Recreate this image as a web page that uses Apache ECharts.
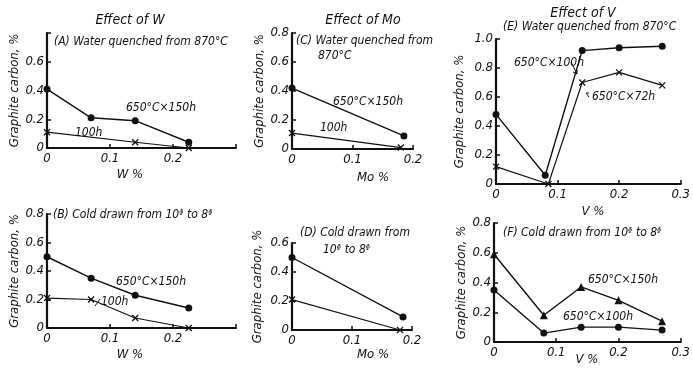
<!DOCTYPE html>
<html><head><meta charset="utf-8">
<script src="https://cdn.jsdelivr.net/npm/echarts@6/dist/echarts.min.js"></script>
<style>html,body{margin:0;padding:0;background:#fff}#c{width:693px;height:378px}</style>
</head><body><div id="c"></div>
<script>
// ---- data ----
const wPct = [0, 0.07, 0.14, 0.225];
const A150 = [0.41, 0.21, 0.19, 0.04];
const A100x = [0, 0.14, 0.225];
const A100 = [0.11, 0.04, 0.0];
const B150 = [0.50, 0.35, 0.23, 0.14];
const B100 = [0.21, 0.20, 0.07, 0.0];
const moPct150 = [0, 0.185];
const moPct100 = [0, 0.18];
const C150 = [0.42, 0.09];
const C100 = [0.11, 0.01];
const D150 = [0.50, 0.09];
const D100 = [0.21, 0.0];
const vPct = [0, 0.08, 0.14, 0.20, 0.27];
const vPct72 = [0, 0.085, 0.14, 0.20, 0.27];
const E100 = [0.48, 0.06, 0.92, 0.94, 0.95];
const E72 = [0.12, 0.0, 0.70, 0.77, 0.68];
const F150 = [0.59, 0.18, 0.37, 0.28, 0.14];
const F100 = [0.35, 0.06, 0.10, 0.10, 0.08];
const xTicksW = ['0', '0.1', '0.2'];
const xTicksV = ['0', '0.1', '0.2', '0.3'];

const FONT = "'Liberation Sans Narrow','DejaVu Sans Condensed','Liberation Sans',sans-serif";
const INK = '#111';
const zip = (xs, ys) => xs.map((x, i) => [x, ys[i]]);
const XSYM = 'path://M0,0L10,10M10,0L0,10';

const grids = [
  {left: 47, top: 33, width: 189, height: 115},   // A
  {left: 47, top: 214, width: 189, height: 114},  // B
  {left: 292, top: 33, width: 121, height: 116},  // C
  {left: 292, top: 243, width: 120, height: 87},  // D
  {left: 496, top: 39, width: 188, height: 145},  // E
  {left: 494, top: 223, width: 189, height: 119}  // F
];
const xCfg = [
  {max: 0.3, labels: xTicksW}, {max: 0.3, labels: xTicksW},
  {max: 0.2, labels: xTicksW}, {max: 0.2, labels: xTicksW},
  {max: 0.3, labels: xTicksV}, {max: 0.3, labels: xTicksV}
];
const yCfg = [
  {max: 0.8, hide: ['0.8']}, {max: 0.8, hide: []},
  {max: 0.8, hide: []}, {max: 0.6, hide: []},
  {max: 1.0, hide: []}, {max: 0.8, hide: []}
];
const yGap = [26, 26, 24, 28, 30, 24];

const xAxis = xCfg.map((c, i) => ({
  type: 'value', gridIndex: i, min: 0, max: c.max, interval: 0.1,
  axisLine: {lineStyle: {color: INK, width: 2.2}},
  axisTick: {inside: true, length: 4, lineStyle: {color: INK, width: 1.5}},
  splitLine: {show: false},
  axisLabel: {color: INK, fontFamily: FONT, fontStyle: 'italic', fontSize: 13, margin: 4,
    formatter: v => { const s = +v.toFixed(1) === 0 ? '0' : v.toFixed(1); return c.labels.includes(s) ? s : ''; }}
}));
const yAxis = yCfg.map((c, i) => ({
  type: 'value', gridIndex: i, min: 0, max: c.max, interval: 0.2,
  name: 'Graphite carbon, %', nameLocation: 'middle', nameGap: yGap[i],
  nameTextStyle: {color: INK, fontFamily: FONT, fontStyle: 'italic', fontSize: 13},
  axisLine: {lineStyle: {color: INK, width: 2.2}},
  axisTick: {inside: true, length: 4, lineStyle: {color: INK, width: 1.5}},
  splitLine: {show: false},
  axisLabel: {color: INK, fontFamily: FONT, fontStyle: 'italic', fontSize: 13, margin: 3,
    formatter: v => { const s = +v.toFixed(1) === 0 ? '0' : v.toFixed(1); return c.hide.includes(s) ? '' : s; }}
}));

function dotSeries(i, name, xs, ys) {
  return {type: 'line', name, xAxisIndex: i, yAxisIndex: i, data: zip(xs, ys),
    symbol: 'circle', symbolSize: 7, lineStyle: {color: INK, width: 1.4},
    itemStyle: {color: INK}, silent: true, animation: false};
}
function xSeries(i, name, xs, ys) {
  return {type: 'line', name, xAxisIndex: i, yAxisIndex: i, data: zip(xs, ys),
    symbol: XSYM, symbolSize: 6, lineStyle: {color: INK, width: 1.2},
    itemStyle: {color: 'none', borderColor: INK, borderWidth: 1.3}, silent: true, animation: false};
}
function triSeries(i, name, xs, ys) {
  return {type: 'line', name, xAxisIndex: i, yAxisIndex: i, data: zip(xs, ys),
    symbol: 'triangle', symbolSize: 8, lineStyle: {color: INK, width: 1.4},
    itemStyle: {color: INK}, silent: true, animation: false};
}

const series = [
  dotSeries(0, '650°C×150h', wPct, A150), xSeries(0, '100h', A100x, A100),
  dotSeries(1, '650°C×150h', wPct, B150), xSeries(1, '100h', wPct, B100),
  dotSeries(2, '650°C×150h', moPct150, C150), xSeries(2, '100h', moPct100, C100),
  dotSeries(3, '650°C×150h', moPct150, D150), xSeries(3, '100h', moPct100, D100),
  dotSeries(4, '650°C×100h', vPct, E100), xSeries(4, '650°C×72h', vPct72, E72),
  triSeries(5, '650°C×150h', vPct, F150), dotSeries(5, '650°C×100h', vPct, F100)
];

function txt(x, y, s, size, align) {
  return {type: 'text', x, y, style: {text: s, fill: INK, font: 'italic ' + (size || 12) + 'px ' + FONT,
    textAlign: align || 'left', textVerticalAlign: 'middle'}, silent: true};
}
function seg(x1, y1, x2, y2) {
  return {type: 'line', shape: {x1, y1, x2, y2}, style: {stroke: INK, lineWidth: 1}, silent: true};
}
const graphic = [
  txt(130, 20, 'Effect of W', 14, 'center'),
  txt(363, 20, 'Effect of Mo', 14, 'center'),
  txt(583, 13, 'Effect of V', 14, 'center'),
  txt(54, 42, '(A) Water quenched from 870°C', 12),
  txt(296, 41, '(C) Water quenched from', 12),
  txt(318, 56, '870°C', 12),
  txt(503, 27, '(E) Water quenched from 870°C', 12),
  txt(53, 215, '(B) Cold drawn from 10ᶲ to 8ᶲ', 12),
  txt(300, 233, '(D) Cold drawn from', 12),
  txt(323, 250, '10ᶲ to 8ᶲ', 12),
  txt(503, 233, '(F) Cold drawn from 10ᶲ to 8ᶲ', 12),
  txt(126, 108, '650°C×150h', 12),
  txt(75, 133, '100h', 12),
  txt(116, 282, '650°C×150h', 12),
  txt(101, 302, '100h', 12),
  seg(95, 306, 100, 299),
  txt(333, 102, '650°C×150h', 12),
  txt(320, 128, '100h', 12),
  txt(514, 63, '650°C×100h', 12),
  seg(571, 62, 577, 74), seg(577, 74, 573, 72), seg(577, 74, 577, 70),
  txt(592, 97, '650°C×72h', 12),
  seg(589, 97, 586, 93), seg(586, 93, 589, 93),
  txt(588, 280, '650°C×150h', 12),
  txt(563, 317, '650°C×100h', 12),
  txt(130, 175, 'W %', 13, 'center'),
  txt(130, 355, 'W %', 13, 'center'),
  txt(373, 178, 'Mo %', 13, 'center'),
  txt(373, 355, 'Mo %', 13, 'center'),
  txt(593, 212, 'V %', 13, 'center'),
  txt(587, 360, 'V %', 13, 'center')
];

const chart = echarts.init(document.getElementById('c'), null, {renderer: 'canvas'});
chart.setOption({
  backgroundColor: '#fff', animation: false,
  grid: grids, xAxis, yAxis, series, graphic
});
</script></body></html>
